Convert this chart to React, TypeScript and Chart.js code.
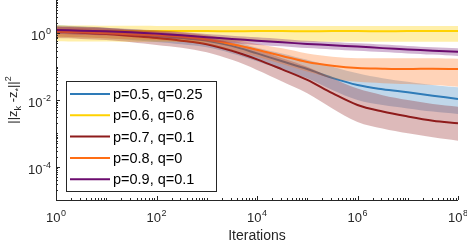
import React, { useEffect, useRef } from "react";
import { Chart, registerables } from "chart.js";

Chart.register(...registerables);

// Iterations (x)
const iterations = [1, 3.16, 10, 31.6, 100, 316, 1e3, 3.16e3, 1e4, 3.16e4, 1e5, 3.16e5, 1e6, 3.16e6, 1e7, 3.16e7, 1e8];

// p=0.5, q=0.25
const blueMean = [1.2, 1.12, 1.05, 0.93, 0.83, 0.72, 0.6, 0.42, 0.25, 0.145, 0.085, 0.046, 0.028, 0.021, 0.017, 0.0135, 0.0107];
const blueUpper = [1.78, 1.62, 1.48, 1.32, 1.17, 1.02, 0.87, 0.62, 0.37, 0.25, 0.16, 0.1, 0.063, 0.045, 0.035, 0.028, 0.024];
const blueLower = [0.81, 0.76, 0.71, 0.63, 0.55, 0.47, 0.38, 0.25, 0.145, 0.08, 0.045, 0.02, 0.01, 0.0071, 0.0056, 0.0045, 0.0038];

// p=0.6, q=0.6
const yellowMean = [1.2, 1.19, 1.18, 1.18, 1.17, 1.17, 1.17, 1.16, 1.17, 1.17, 1.16, 1.17, 1.17, 1.16, 1.17, 1.17, 1.17];
const yellowUpper = [1.75, 1.72, 1.7, 1.68, 1.67, 1.66, 1.66, 1.66, 1.66, 1.66, 1.66, 1.66, 1.66, 1.66, 1.66, 1.66, 1.66];
const yellowLower = [0.58, 0.57, 0.57, 0.56, 0.56, 0.56, 0.56, 0.56, 0.56, 0.56, 0.56, 0.56, 0.56, 0.56, 0.56, 0.56, 0.56];

// p=0.7, q=0.1
const redMean = [1.12, 1.05, 0.95, 0.83, 0.72, 0.6, 0.47, 0.3, 0.166, 0.083, 0.04, 0.016, 0.0071, 0.0045, 0.0032, 0.0024, 0.002];
const redUpper = [1.66, 1.58, 1.48, 1.26, 1.12, 0.93, 0.76, 0.52, 0.33, 0.18, 0.1, 0.045, 0.022, 0.014, 0.01, 0.0076, 0.0063];
const redLower = [0.72, 0.68, 0.63, 0.54, 0.45, 0.37, 0.27, 0.16, 0.08, 0.036, 0.016, 0.0056, 0.0022, 0.0014, 0.001, 0.00076, 0.0006];

// p=0.8, q=0
const orangeMean = [1.12, 1.07, 1.0, 0.93, 0.87, 0.79, 0.65, 0.47, 0.32, 0.21, 0.138, 0.107, 0.091, 0.087, 0.085, 0.087, 0.085];
const orangeUpper = [1.51, 1.45, 1.35, 1.26, 1.17, 1.07, 0.87, 0.65, 0.48, 0.355, 0.25, 0.2, 0.18, 0.178, 0.178, 0.178, 0.174];
const orangeLower = [0.79, 0.76, 0.71, 0.66, 0.62, 0.56, 0.46, 0.31, 0.2, 0.12, 0.071, 0.045, 0.035, 0.032, 0.03, 0.028, 0.025];

// p=0.9, q=0.1
const purpleMean = [1.26, 1.2, 1.15, 1.07, 0.98, 0.87, 0.76, 0.68, 0.6, 0.54, 0.48, 0.44, 0.4, 0.36, 0.33, 0.3, 0.28];
const purpleUpper = [1.58, 1.51, 1.45, 1.35, 1.23, 1.1, 0.95, 0.85, 0.76, 0.68, 0.6, 0.55, 0.5, 0.46, 0.42, 0.38, 0.355];
const purpleLower = [0.95, 0.91, 0.87, 0.81, 0.74, 0.66, 0.575, 0.51, 0.45, 0.41, 0.36, 0.33, 0.3, 0.275, 0.25, 0.23, 0.21];

const seriesLabels = ["p=0.5, q=0.25", "p=0.6, q=0.6", "p=0.7, q=0.1", "p=0.8, q=0", "p=0.9, q=0.1"];
const seriesColors = ["#2E7BB8", "#FFD200", "#8E1B1B", "#FF6D14", "#6B0B6E"];
const bandColors = [
  "rgba(46,123,184,0.3)",
  "rgba(255,214,30,0.38)",
  "rgba(142,27,27,0.3)",
  "rgba(255,109,20,0.3)",
  "rgba(107,11,110,0.3)",
];

const xTickExponents = [0, 2, 4, 6, 8];
const yTickExponents = [0, -2, -4];
const xTitle = "Iterations";

const FONT = '"Liberation Sans", Arial, Helvetica, sans-serif';

function drawPower(ctx: CanvasRenderingContext2D, exp: number, x: number, y: number, align: "center" | "right") {
  ctx.font = `13px ${FONT}`;
  const base = "10";
  const wBase = ctx.measureText(base).width;
  ctx.font = `9px ${FONT}`;
  const sup = String(exp);
  const wSup = ctx.measureText(sup).width;
  const total = wBase + wSup + 0.5;
  const x0 = align === "center" ? x - total / 2 : x - total;
  ctx.textAlign = "left";
  ctx.textBaseline = "alphabetic";
  ctx.font = `13px ${FONT}`;
  ctx.fillText(base, x0, y);
  ctx.font = `9px ${FONT}`;
  ctx.fillText(sup, x0 + wBase + 0.5, y - 6);
}

const overlayPlugin = {
  id: "overlay",
  afterDraw(chart: any) {
    const ctx: CanvasRenderingContext2D = chart.ctx;
    const xs = chart.scales.x;
    const ys = chart.scales.y;
    const { left, right, top, bottom } = chart.chartArea;
    ctx.save();
    ctx.strokeStyle = "#262626";
    ctx.fillStyle = "#262626";
    ctx.lineWidth = 1;
    ctx.beginPath();
    ctx.moveTo(left + 0.5, top);
    ctx.lineTo(left + 0.5, bottom + 0.5);
    ctx.lineTo(right, bottom + 0.5);
    ctx.stroke();
    ctx.beginPath();
    for (let d = 0; d <= 8; d++) {
      for (let k = 1; k <= 9; k++) {
        const v = k * Math.pow(10, d);
        if (v > 1e8) break;
        const px = Math.round(xs.getPixelForValue(v)) + 0.5;
        const len = k === 1 && d % 2 === 0 ? 4 : 2;
        ctx.moveTo(px, bottom);
        ctx.lineTo(px, bottom - len);
      }
    }
    for (let d = -5; d <= 1; d++) {
      for (let k = 1; k <= 9; k++) {
        const v = k * Math.pow(10, d);
        if (v > 10) break;
        const py = Math.round(ys.getPixelForValue(v)) + 0.5;
        const len = k === 1 && d % 2 === 0 ? 4 : 2;
        ctx.moveTo(left, py);
        ctx.lineTo(left + len, py);
      }
    }
    ctx.stroke();
    xTickExponents.forEach((e) => {
      const px = xs.getPixelForValue(Math.pow(10, e));
      drawPower(ctx, e, px, bottom + 22, "center");
    });
    yTickExponents.forEach((e) => {
      const py = ys.getPixelForValue(Math.pow(10, e));
      drawPower(ctx, e, left - 5, py + 7, "right");
    });
    ctx.font = `14px ${FONT}`;
    ctx.textAlign = "center";
    ctx.textBaseline = "alphabetic";
    ctx.fillText(xTitle, (left + right) / 2, 240);
    ctx.save();
    ctx.translate(17, (top + bottom) / 2);
    ctx.rotate(-Math.PI / 2);
    const parts: [string, number, number][] = [
      ["||z", 13, 0],
      ["k", 9, 4],
      [" -z", 13, 0],
      ["*", 9, 4],
      ["||", 13, 0],
      ["2", 9, -6],
    ];
    let tw = 0;
    parts.forEach(([t, s]) => {
      ctx.font = `${s}px ${FONT}`;
      tw += ctx.measureText(t).width;
    });
    let cx = -tw / 2;
    ctx.textAlign = "left";
    parts.forEach(([t, s, dy]) => {
      ctx.font = `${s}px ${FONT}`;
      ctx.fillText(t, cx, dy);
      cx += ctx.measureText(t).width;
    });
    ctx.restore();
    const lx = 66.5, ly = 81.5, lw = 150, lh = 110;
    ctx.fillStyle = "#ffffff";
    ctx.fillRect(lx, ly, lw, lh);
    ctx.strokeStyle = "#262626";
    ctx.lineWidth = 1;
    ctx.strokeRect(lx, ly, lw, lh);
    ctx.font = `14.5px ${FONT}`;
    ctx.textBaseline = "middle";
    ctx.textAlign = "left";
    seriesLabels.forEach((lab, i) => {
      const yy = 94 + i * 21.3;
      ctx.strokeStyle = seriesColors[i];
      ctx.lineWidth = 2;
      ctx.beginPath();
      ctx.moveTo(70, yy);
      ctx.lineTo(110, yy);
      ctx.stroke();
      ctx.fillStyle = "#000";
      ctx.fillText(lab, 113, yy + 1);
    });
    ctx.restore();
  },
};

export default function App() {
  const ref = useRef<HTMLCanvasElement | null>(null);
  useEffect(() => {
    document.body.style.margin = "0";
    const canvas = ref.current;
    if (!canvas) return;
    const groups = [
      [blueMean, blueUpper, blueLower],
      [yellowMean, yellowUpper, yellowLower],
      [redMean, redUpper, redLower],
      [orangeMean, orangeUpper, orangeLower],
      [purpleMean, purpleUpper, purpleLower],
    ];
    const datasets: any[] = [];
    groups.forEach(([mean, up, lo], i) => {
      const seq = i * 2;
      datasets.push({
        label: seriesLabels[i] + " upper",
        data: iterations.map((x, j) => ({ x, y: up[j] })),
        borderWidth: 0,
        borderColor: "transparent",
        pointRadius: 0,
        backgroundColor: bandColors[i],
        fill: "+1",
        tension: 0.35,
        order: 100 - seq,
      });
      datasets.push({
        label: seriesLabels[i] + " lower",
        data: iterations.map((x, j) => ({ x, y: lo[j] })),
        borderWidth: 0,
        borderColor: "transparent",
        pointRadius: 0,
        fill: false,
        tension: 0.35,
        order: 100 - seq,
      });
      datasets.push({
        label: seriesLabels[i],
        data: iterations.map((x, j) => ({ x, y: mean[j] })),
        borderWidth: 2,
        borderColor: seriesColors[i],
        pointRadius: 0,
        fill: false,
        tension: 0.35,
        order: 100 - seq - 1,
      });
    });
    const chart = new Chart(canvas, {
      type: "line",
      data: { datasets },
      options: {
        responsive: false,
        animation: false,
        devicePixelRatio: 1,
        layout: { padding: { left: 0, right: 9, top: 0, bottom: 0 } },
        plugins: { legend: { display: false }, tooltip: { enabled: false } },
        scales: {
          x: {
            type: "logarithmic",
            min: 1,
            max: 1e8,
            ticks: { display: false },
            grid: { display: false },
            border: { display: false },
            afterFit: (s: any) => {
              s.height = 42;
            },
          },
          y: {
            type: "logarithmic",
            min: 1e-5,
            max: 10,
            ticks: { display: false },
            grid: { display: false },
            border: { display: false },
            afterFit: (s: any) => {
              s.width = 56;
            },
          },
        },
      },
      plugins: [overlayPlugin],
    });
    return () => chart.destroy();
  }, []);
  return (
    <div style={{ width: 467, height: 242 }}>
      <canvas ref={ref} width={467} height={242} />
    </div>
  );
}
